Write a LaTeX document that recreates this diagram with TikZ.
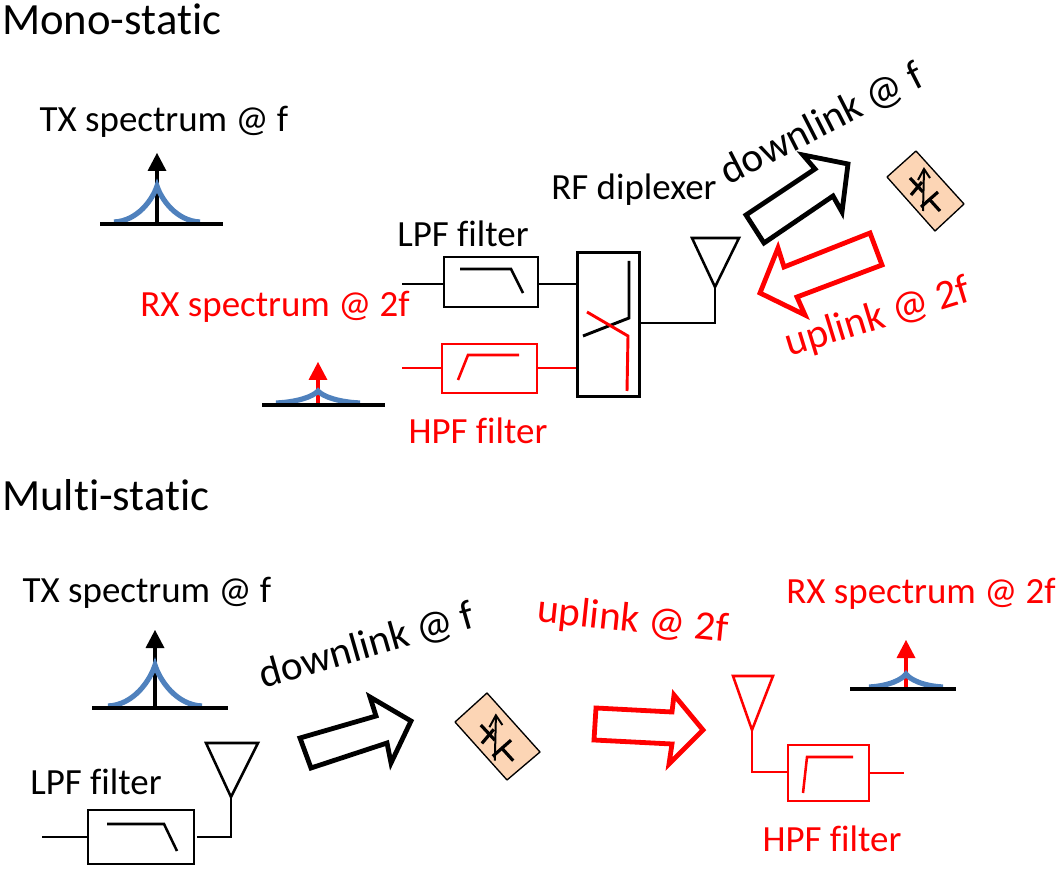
\documentclass[tikz,border=0pt]{standalone}
\usepackage{fontspec}
\setmainfont[Ligatures=CommonOff]{Carlito}
\definecolor{specblue}{HTML}{4F81BD}
\definecolor{tagfill}{HTML}{FCD5B5}
\tikzset{
  lab/.style={font=\fontsize{27.7}{30}\selectfont,inner sep=0pt,anchor=center},
  rotlab/.style={font=\fontsize{31}{34}\selectfont,inner sep=0pt,anchor=center},
  title/.style={font=\fontsize{33.5}{36}\selectfont,inner sep=0pt,anchor=west},
  wire/.style={line width=2.2pt,line join=miter},
  thin wire/.style={line width=1.9pt,line join=miter},
  big arrow/.style={line width=3.6pt,line join=miter,miter limit=10,fill=white},
  tagbox/.style={fill=tagfill,draw=black,line width=1pt,line join=round},
}
% x, ybase, colour, left, right, blue half width, blue height, tip height
\newcommand{\spectrum}[8]{%
  \begin{scope}[shift={(#1,#2)}]
    \draw[line width=3.7pt,#3] (0,0) -- (0,{-#8+15});
    \fill[#3] (0,-#8) -- (9.5,{-#8+18}) -- (-9.5,{-#8+18}) -- cycle;
    \draw[line width=3.9pt,specblue] (-#6,-2) .. controls ({-#6*0.45},-3) and ({-#6*0.1},{-#7*0.65}) .. (0,-#7) .. controls ({#6*0.1},{-#7*0.65}) and ({#6*0.45},-3) .. (#6,-2);
    \draw[line width=3.2pt] (-#4,0) -- (#5,0);
  \end{scope}}
\newcommand{\tagsym}[2]{% position, scale
  \begin{scope}[shift={#1},scale=#2,line width=2.4pt]
    \draw (-15,-12) -- (-2,2);
    \draw (-14,5) -- (-3,-8);
    \draw (-4,17) -- (13,2);
    \draw (5,10) -- (15,21);
    \draw[line width=1.5pt] (-2,21) -- (-1,-21);
    \draw[line width=1.5pt] (-7,-10) -- (-1,-21) -- (5,-12);
  \end{scope}}
\begin{document}
\begin{tikzpicture}[x=0.75pt,y=-0.75pt]
\useasboundingbox (0,0) rectangle (1060,873);
% --- Mono-static
\node[title] (monotitle) at (2,19) {Mono-static};
\node[lab] (txa) at (164,122) {TX spectrum @ f};
\spectrum{157}{224}{black}{57}{66}{43}{38}{71}
\node[lab] (lpfa) at (463,234) {LPF filter};
\node[lab,text=red] (rxa) at (275,307) {RX spectrum @ 2f};
\spectrum{318}{405}{red}{56}{67}{42}{14}{43}
\node[lab] (rfd) at (634,190) {RF diplexer};
\node[rotlab,rotate=27] (dla) at (822,124) {downlink @ f};
\node[rotlab,rotate=17,text=red] (ula) at (878,318) {uplink @ 2f};
\node[lab,text=red] (hpfa) at (478,431) {HPF filter};

\coordinate (lpfain) at (402,284);
\coordinate (hpfain) at (402,368);
\node[draw,thin wire,minimum width=70.5pt,minimum height=37.5pt,inner sep=0pt] (lpfbox) at (491,282) {};
\node[draw=red,thin wire,minimum width=71pt,minimum height=37pt,inner sep=0pt] (hpfbox) at (489.5,368.5) {};
\node[draw,wire,minimum width=46.5pt,minimum height=108pt,inner sep=0pt] (dipbox) at (608.5,324.5) {};
\draw[thin wire] (lpfain) -- (lpfain -| lpfbox.west);
\draw[thin wire] (lpfain -| lpfbox.east) -- (lpfain -| dipbox.west);
\draw[thin wire,red] (hpfain) -- (hpfain -| hpfbox.west);
\draw[wire,red] (hpfain -| hpfbox.east) -- (hpfain -| dipbox.west);
\draw[thin wire] (460,269) -- (511,269) -- (523,293);
\draw[thin wire,red] (458,380) -- (468,355) -- (519,355);
\draw[wire] (629,261) -- (629,318) -- (583,336);
\draw[wire,red] (587,312) -- (628,336) -- (627,391);
\coordinate (anttipa) at (715,287);
\draw[thin wire] (692,238) -- (739,238) -- (anttipa) -- cycle;
\draw[thin wire] (anttipa) -- (715,323) -- (641,323);
\draw[big arrow] (746,215) -- (815,169) -- (803,155) -- (848,164) -- (842,212) -- (833,196) -- (764,243) -- cycle;
\draw[big arrow,draw=red] (870,233) -- (784,267) -- (778,248) -- (760,293) -- (805,315) -- (797,297) -- (882,265) -- cycle;
\filldraw[tagbox] (916,151) -- (887,177) -- (935,231) -- (964,204) -- cycle;
\tagsym{(925,190)}{1}

% --- Multi-static
\node[title] (multititle) at (2,495) {Multi-static};
\node[lab] (txb) at (147,593) {TX spectrum @ f};
\spectrum{155}{708}{black}{63}{73}{47}{43}{78}
\node[lab] (lpfb) at (96,782) {LPF filter};
\node[rotlab,rotate=16] (dlb) at (367,646) {downlink @ f};
\node[rotlab,rotate=-6,text=red] (ulb) at (633,621) {uplink @ 2f};
\node[lab,text=red] (rxb) at (921,594) {RX spectrum @ 2f};
\spectrum{906}{689}{red}{56}{50}{37}{15}{49}
\node[lab,text=red] (hpfb) at (832,839) {HPF filter};

\coordinate (lpfbin) at (42,837);
\node[draw,thin wire,minimum width=79.5pt,minimum height=40.5pt,inner sep=0pt] (lpfboxb) at (141,837) {};
\draw[thin wire] (lpfbin) -- (lpfboxb.west);
\draw[thin wire] (107,824) -- (164,824) -- (177,851);
\coordinate (antbtip) at (231,797);
\draw[thin wire] (206,743) -- (258,743) -- (antbtip) -- cycle;
\draw[wire] (antbtip) -- (231,837) -- (197,837);
\draw[big arrow] (300,738) -- (376,716) -- (370,697) -- (411,721) -- (391,763) -- (387,743) -- (311,768) -- cycle;
\filldraw[tagbox] (487,693) -- (455,722) -- (507,780) -- (540,752) -- cycle;
\tagsym{(497,738)}{1.08}

\draw[big arrow,draw=red] (596,708) -- (672,712) -- (674,695) -- (703,730) -- (669,764) -- (672,744) -- (594,740) -- cycle;
\coordinate (antctip) at (752,730);
\draw[thin wire,red] (733,676) -- (773,676) -- (antctip) -- cycle;
\node[draw=red,thin wire,minimum width=61pt,minimum height=42pt,inner sep=0pt] (hpfboxb) at (828.5,773) {};
\draw[thin wire,red] (antctip) -- (752,772) -- (752,772 -| hpfboxb.west);
\coordinate (hpfbout) at (904,773);
\draw[thin wire,red] (hpfboxb.east) -- (hpfbout);
\draw[thin wire,red] (803,793) -- (807,757) -- (853,757);
\end{tikzpicture}
\end{document}
